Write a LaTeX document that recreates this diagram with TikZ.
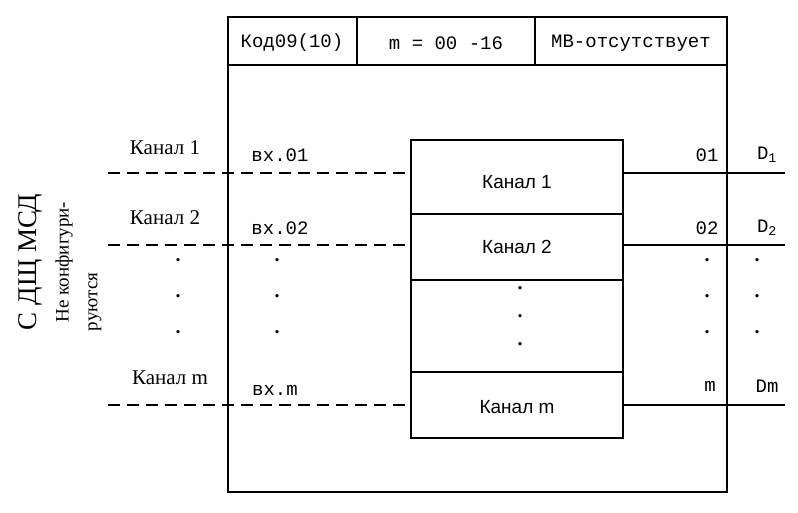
\documentclass[tikz,border=0pt]{standalone}
\usepackage{fontspec}
\setmainfont{Liberation Serif}
\newfontfamily\drawfont{Liberation Mono}
\newfontfamily\boxfont{Liberation Sans}
\usetikzlibrary{positioning}

\begin{document}
\begin{tikzpicture}[x=1pt, y=-1pt,
    line/.style={line width=1.6pt},
    dline/.style={line width=1.8pt, dash pattern=on 12pt off 7pt},
    mono/.style={font=\drawfont\fontsize{19}{19}\selectfont},
    serif/.style={font=\fontsize{21}{21}\selectfont},
    inner/.style={font=\boxfont\fontsize{19}{19}\selectfont},
    dot/.style={font=\bfseries\fontsize{20}{20}\selectfont}
    ]
    \useasboundingbox (0,0) rectangle (798,512);

    % Frame and header
    \draw[line] (228,17) rectangle (727,492);
    \draw[line] (228,65) -- (727,65);
    \draw[line] (357,17) -- (357,65);
    \draw[line] (535,17) -- (535,65);
    \node[mono] (hcode) at (292,43) {Код09(10)};
    \node[mono] (hm) at (446,43) {m = 00 -16};
    \node[mono] (hmv) at (631,43) {МВ-отсутствует};

    % Channel block
    \draw[line] (411,140) rectangle (623,438);
    \foreach \y in {214,280,372} \draw[line] (411,\y) -- (623,\y);
    \node[inner] (k1) at (517,182) {Канал 1};
    \node[inner] (k2) at (517,247) {Канал 2};
    \node[inner] (km) at (517,407) {Канал m};
    \foreach \y in {288,316,344} \node[dot] at (520,\y) {.};

    % Inputs
    \coordinate (in1) at (108,173);
    \coordinate (in2) at (108,245);
    \coordinate (inm) at (108,405);
    \draw[dline] (in1) -- (411,173);
    \draw[dline] (in2) -- (411,245);
    \draw[dline] (inm) -- (411,405);
    \node[serif] (c1) at (165,148) {Канал 1};
    \node[serif] (c2) at (165,218) {Канал 2};
    \node[serif] (cm) at (170,378) {Канал m};
    \node[mono] (v1) at (280,155) {вх.01};
    \node[mono] (v2) at (280,228) {вх.02};
    \node[mono] (vm) at (275,390) {вх.m};
    \foreach \y in {260,296,332} {
        \node[dot] at (178,\y) {.};
        \node[dot] at (277,\y) {.};
        \node[dot] at (707,\y) {.};
        \node[dot] at (757,\y) {.};
    }

    % Outputs
    \coordinate (out1) at (785,173);
    \coordinate (out2) at (785,245);
    \coordinate (outm) at (785,405);
    \draw[line] (623,173) -- (out1);
    \draw[line] (623,245) -- (out2);
    \draw[line] (623,405) -- (outm);
    \node[mono] (o1) at (707,155) {01};
    \node[mono] (o2) at (707,228) {02};
    \node[mono] (om) at (710,386) {m};
    \node[mono] (d1) at (767,155) {D\textsubscript{1}};
    \node[mono] (d2) at (767,228) {D\textsubscript{2}};
    \node[mono] (dm) at (767,386) {Dm};

    % Side labels
    \node[rotate=90, font=\fontsize{27}{27}\selectfont] (src) at (30,262) {С ДЩ МСД};
    \node[rotate=90, font=\fontsize{19}{19}\selectfont] (nc1) at (64,262) {Не конфигури-};
    \node[rotate=90, font=\fontsize{19}{19}\selectfont] (nc2) at (95,302) {руются};
\end{tikzpicture}
\end{document}
